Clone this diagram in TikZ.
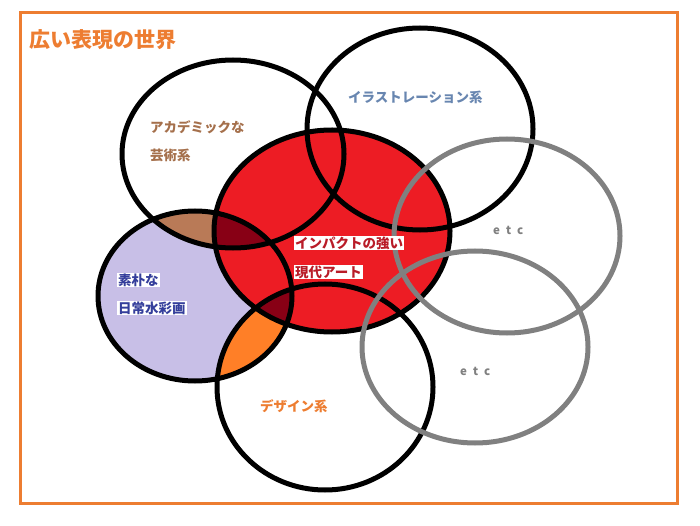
\documentclass[tikz,border=0pt]{standalone}
\usepackage{fontspec}
\newfontfamily\jp{Noto Sans CJK JP}
\usepackage{tikz}
\usetikzlibrary{calc}

\definecolor{frameorange}{RGB}{237,125,49}
\definecolor{lilac}{RGB}{200,191,231}
\definecolor{paintred}{RGB}{237,28,36}
\definecolor{darkred}{RGB}{136,0,21}
\definecolor{paintbrown}{RGB}{185,122,87}
\definecolor{paintorange}{RGB}{255,127,39}
\definecolor{acadtext}{RGB}{165,112,76}
\definecolor{illusttext}{RGB}{104,134,176}
\definecolor{impacttext}{RGB}{185,28,40}
\definecolor{naivetext}{RGB}{52,62,155}
\definecolor{etcgray}{RGB}{128,128,128}

\tikzset{
  ring/.style={line width=5pt, draw=black},
  grayring/.style={line width=5pt, draw=etcgray},
  catlabel/.style={font=\jp\bfseries\fontsize{13.5}{15}\selectfont, anchor=west, inner sep=1pt},
  etclabel/.style={font=\jp\bfseries\fontsize{11.5}{13}\selectfont, text=etcgray, anchor=west, inner sep=1pt},
}

\begin{document}
\begin{tikzpicture}[x=1pt, y=-1pt]
\useasboundingbox (0,0) rectangle (700,526);
\draw[line width=3pt, draw=frameorange] (20,13) rectangle (677,503);
\node[font=\jp\bfseries\fontsize{21}{23}\selectfont, text=frameorange, anchor=west, inner sep=0pt] (title) at (29,40) {広い表現の世界};
% paint
\fill[lilac] (195,296) ellipse [x radius=97pt, y radius=85pt];
\begin{scope}
  \clip (195,296) ellipse [x radius=97pt, y radius=85pt];
  \fill[paintbrown] (233,154) ellipse [x radius=111pt, y radius=94pt];
  \fill[paintorange] (325,387) ellipse [x radius=108pt, y radius=103pt];
\end{scope}
\fill[paintred] (332,231) ellipse [x radius=118pt, y radius=101pt];
\begin{scope}
  \clip (195,296) ellipse [x radius=97pt, y radius=85pt];
  \clip (332,231) ellipse [x radius=118pt, y radius=101pt];
  \fill[darkred] (233,154) ellipse [x radius=111pt, y radius=94pt];
  \fill[darkred] (325,387) ellipse [x radius=108pt, y radius=103pt];
\end{scope}
% rings
\draw[ring] (233,154) ellipse [x radius=111pt, y radius=94pt]; % academic
\draw[ring] (420,129) ellipse [x radius=113pt, y radius=101pt]; % illustration
\draw[ring] (332,231) ellipse [x radius=118pt, y radius=101pt]; % impact
\draw[ring] (195,296) ellipse [x radius=97pt, y radius=85pt]; % naive
\draw[ring] (325,387) ellipse [x radius=108pt, y radius=103pt]; % design
\draw[grayring] (507,236) ellipse [x radius=113pt, y radius=97pt];
\draw[grayring] (475,347) ellipse [x radius=113pt, y radius=96pt];
% labels
\node[catlabel, text=acadtext] (acad1) at (149,127) {アカデミックな};
\node[catlabel, text=acadtext] (acad2) at (149,155) {芸術系};
\node[catlabel, text=illusttext] (illust) at (347,97) {イラストレーション系};
\node[catlabel, text=impacttext, fill=white] (impact1) at (294,243) {インパクトの強い};
\node[catlabel, text=impacttext, fill=white] (impact2) at (294,272) {現代アート};
\node[catlabel, text=naivetext, fill=white] (naive1) at (117,280) {素朴な};
\node[catlabel, text=naivetext, fill=white] (naive2) at (117,308) {日常水彩画};
\node[catlabel, text=frameorange] (design) at (259,406) {デザイン系};
\node[etclabel] (etc1) at (492,230) {e\hspace{6pt}t\hspace{6pt}c};
\node[etclabel] (etc2) at (459,371) {e\hspace{6pt}t\hspace{6pt}c};
\end{tikzpicture}
\end{document}
